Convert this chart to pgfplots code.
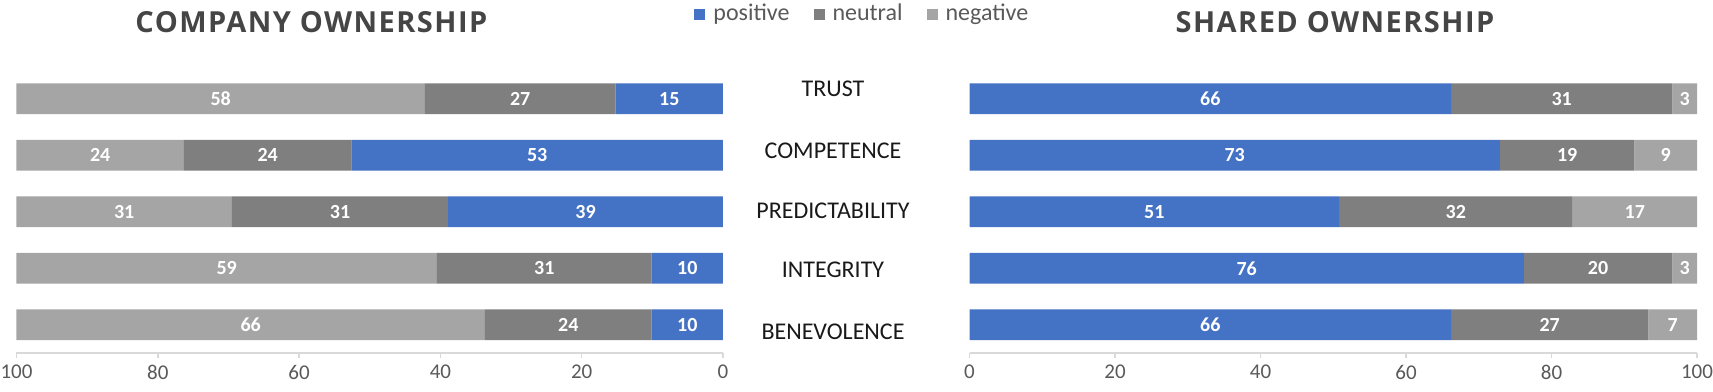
\documentclass[border=0pt]{standalone}
\usepackage{fontspec}
\setmainfont{Carlito}
\newfontfamily\titlefont[LetterSpace=5]{Open Sans}
\usepackage{pgfplots}
\usepackage{pgfplotstable}
\pgfplotsset{compat=1.18}
\definecolor{cpos}{HTML}{4472C4}
\definecolor{cneu}{HTML}{7F7F7F}
\definecolor{cneg}{HTML}{A5A5A5}
\definecolor{cgrid}{HTML}{D9D9D9}
\definecolor{ctxt}{HTML}{595959}
\definecolor{ctitle}{HTML}{454545}

\pgfplotstableread{
idx pos posl neu neul neg negl
0 15.2 15 27.0 27 57.8 58
1 52.6 53 23.7 24 23.7 24
2 38.9 39 30.6 31 30.5 31
3 10.1 10 30.4 31 59.5 59
4 10.1 10 23.6 24 66.3 66
}\company

\pgfplotstableread{
idx pos posl neu neul neg negl
0 66.2 66 30.4 31 3.4 3
1 72.9 73 18.5 19 8.6 9
2 50.8 51 32.1 32 17.1 17
3 76.2 76 20.4 20 3.4 3
4 66.2 66 27.1 27 6.7 7
}\shared

\pgfplotsset{
  mylegend/.style={legend image code/.code={\fill[##1] (0pt,-2.75pt) rectangle (5.5pt,2.75pt);}},
  mybars/.style={
    xbar stacked,
    scale only axis,
    height=141.25pt,
    bar width=15.3pt,
    xmin=0, xmax=100, ymin=-0.5, ymax=4.5,
    y dir=reverse,
    axis x line*=bottom,
    axis y line=none,
    ytick={-0.5,0.5,1.5,2.5,3.5,4.5},
    yticklabels={},
    ymajorgrids,
    major grid style={cgrid, line width=0.8pt},
    x axis line style={cgrid, line width=0.8pt, -},
    xtick={0,20,40,60,80,100},
    xtick style={cgrid, line width=0.8pt},
    tick align=outside,
    major tick length=2.5pt,
    /pgf/number format/assume math mode=true,
    xticklabel style={font=\fontsize{10.5}{12}\selectfont, text=ctxt},
    clip=false,
    nodes near coords,
    point meta=explicit symbolic,
    nodes near coords style={font=\bfseries\fontsize{10}{12}\selectfont, text=white, anchor=center},
  }
}

\begin{document}
\begin{tikzpicture}
\useasboundingbox (0,0) rectangle (856.5pt,195.5pt);

\begin{axis}[mybars,
  at={(8.25pt,19pt)}, anchor=south west,
  width=353.25pt,
  x dir=reverse,
  legend columns=3,
  legend style={at={(0.959,1.2)}, anchor=west, draw=none, fill=none, inner sep=0pt,
    font=\fontsize{12}{14}\selectfont, text=ctxt,
    nodes={inner xsep=0pt},
    /tikz/every odd column/.append style={column sep=4pt},
    /tikz/every even column/.append style={column sep=12pt}},
]
\addplot[fill=cpos, draw=none, mylegend] table[x=pos, y=idx, meta=posl]{\company};
\addplot[fill=cneu, draw=none, mylegend] table[x=neu, y=idx, meta=neul]{\company};
\addplot[fill=cneg, draw=none, mylegend] table[x=neg, y=idx, meta=negl]{\company};
\legend{positive, neutral, negative}
\end{axis}

\begin{axis}[mybars,
  at={(484.75pt,19pt)}, anchor=south west,
  width=363.75pt,
]
\addplot[fill=cpos, draw=none] table[x=pos, y=idx, meta=posl]{\shared};
\addplot[fill=cneu, draw=none] table[x=neu, y=idx, meta=neul]{\shared};
\addplot[fill=cneg, draw=none] table[x=neg, y=idx, meta=negl]{\shared};
\end{axis}

\node[font={\titlefont\bfseries\fontsize{14.5}{17}\selectfont}, text=ctitle] at (155.7pt,184.5pt) {COMPANY OWNERSHIP};
\node[font={\titlefont\bfseries\fontsize{14.5}{17}\selectfont}, text=ctitle] at (667.5pt,184.5pt) {SHARED OWNERSHIP};

\begin{scope}[every node/.style={font=\fontsize{12}{14}\selectfont, text=black!90}]
\node at (416.5pt,151pt) {TRUST};
\node at (416.5pt,120pt) {COMPETENCE};
\node at (416.5pt,90pt) {PREDICTABILITY};
\node at (416.5pt,60.5pt) {INTEGRITY};
\node at (416.5pt,29.5pt) {BENEVOLENCE};
\end{scope}
\end{tikzpicture}
\end{document}
